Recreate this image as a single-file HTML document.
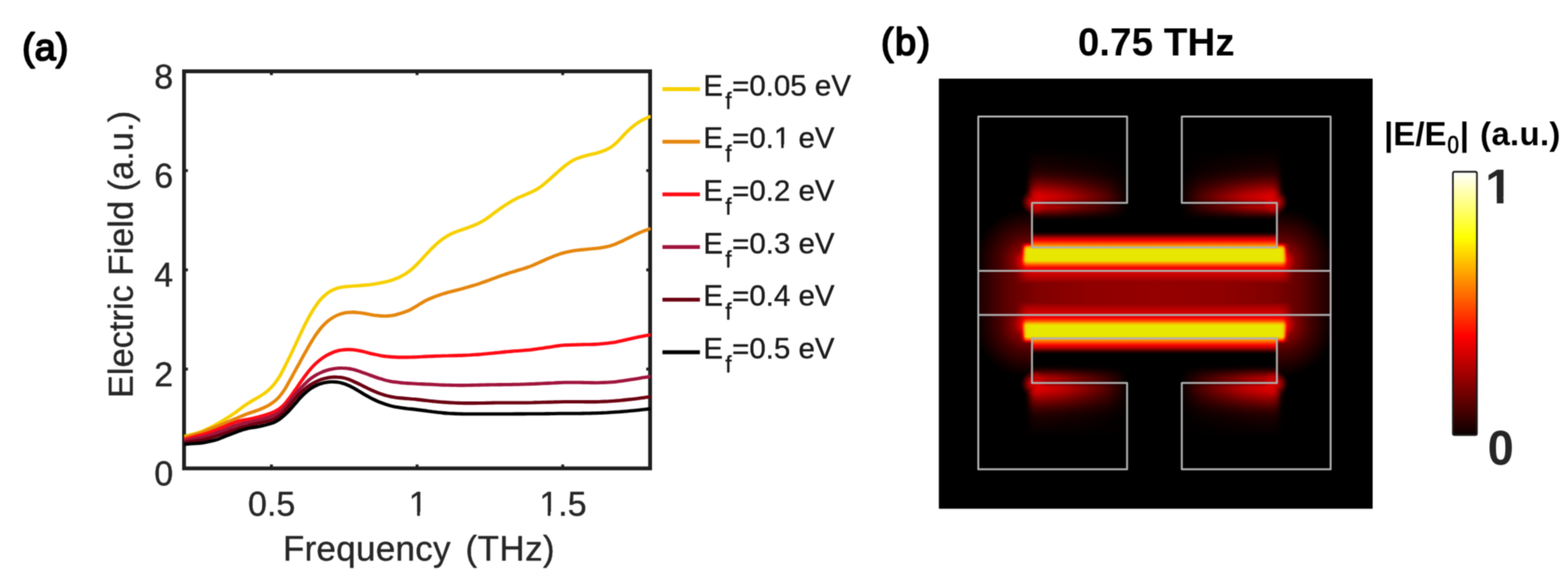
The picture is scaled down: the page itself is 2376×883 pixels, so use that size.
<!DOCTYPE html>
<html lang="en"><head><meta charset="utf-8"><title>Electric field vs frequency</title>
<style>
html,body{margin:0;padding:0;background:#fff;}
body{width:2376px;height:883px;overflow:hidden;}
svg{display:block;}
text{font-family:"Liberation Sans",Arial,Helvetica,sans-serif;}
.t{fill:#262626;stroke:#262626;stroke-width:0.55px;stroke-linejoin:round;}
.b{font-weight:bold;fill:#000;}
.s{fill:#000;stroke:#000;stroke-width:2.6px;stroke-linejoin:round;}
</style></head><body>
<svg width="2376" height="883" viewBox="0 0 2376 883">
<defs><filter id="soft" filterUnits="userSpaceOnUse" x="0" y="0" width="2376" height="883" color-interpolation-filters="sRGB"><feConvolveMatrix order="5" kernelMatrix="0.0008 0.0117 0.0286 0.0117 0.0008 0.0117 0.1690 0.4111 0.1690 0.0117 0.0286 0.4111 1.0000 0.4111 0.0286 0.0117 0.1690 0.4111 0.1690 0.0117 0.0008 0.0117 0.0286 0.0117 0.0008" edgeMode="duplicate" preserveAlpha="true"/></filter></defs>
<g filter="url(#soft)">
<rect width="2376" height="883" fill="#fff"/>
<defs><clipPath id="k0"><path clip-rule="evenodd" d="M0 0H2376V883H0ZM620.8 775.0H632.1V783.0H620.8ZM636.3 775.0H647.1V783.0H636.3Z"/></clipPath><clipPath id="k1"><path clip-rule="evenodd" d="M0 0H2376V883H0ZM818.7 775.0H830.0V783.0H818.7ZM834.2 775.0H845.0V783.0H834.2Z"/></clipPath><clipPath id="k2"><path clip-rule="evenodd" d="M0 0H2376V883H0ZM1174.0 219.0H1183.8V226.3H1174.0ZM1187.4 219.0H1196.8V226.3H1187.4Z"/></clipPath><clipPath id="k3"><path clip-rule="evenodd" d="M0 0H2376V883H0ZM2252.8 298.0H2268.1V310.3H2252.8ZM2278.3 298.0H2292.5V310.3H2278.3Z"/></clipPath></defs>

<g id="panel-a">
<g stroke="#1e1e1e" stroke-width="4.4" fill="none">
<path d="M411.3 709.4v-5.8M411.3 108.0v5.8"/>
<path d="M632.0 709.4v-5.8M632.0 108.0v5.8"/>
<path d="M852.7 709.4v-5.8M852.7 108.0v5.8"/>
<path d="M278.9 559.0h5.8M985.1 559.0h-5.8"/>
<path d="M278.9 408.7h5.8M985.1 408.7h-5.8"/>
<path d="M278.9 258.4h5.8M985.1 258.4h-5.8"/>
</g>
<rect x="278.9" y="108.0" width="706.2" height="601.4" fill="none" stroke="#1e1e1e" stroke-width="5.8"/>
<clipPath id="cp"><rect x="278.4" y="108.0" width="707.7" height="601.4"/></clipPath>
<g clip-path="url(#cp)" fill="none" stroke-width="5.1" stroke-linejoin="round" stroke-linecap="butt">
<path stroke="#f7d000" d="M279.0 661.0C280.3 660.7 284.3 659.6 287.0 659.0C289.7 658.3 292.3 657.6 295.0 656.9C297.7 656.1 300.3 655.5 303.0 654.5C305.7 653.6 308.3 652.4 311.0 651.2C313.7 650.0 316.3 648.6 319.0 647.3C321.7 646.0 324.3 644.7 327.0 643.2C329.7 641.8 332.3 640.2 335.0 638.6C337.7 637.0 340.3 635.4 343.0 633.8C345.7 632.1 348.3 630.5 351.0 628.7C353.7 626.9 356.3 625.0 359.0 623.1C361.7 621.1 364.3 619.0 367.0 617.0C369.7 615.1 372.3 613.1 375.0 611.4C377.7 609.6 380.3 608.1 383.0 606.5C385.7 604.9 388.3 603.5 391.0 601.9C393.7 600.3 396.3 598.8 399.0 597.0C401.7 595.1 404.3 593.1 407.0 590.7C409.7 588.2 412.3 585.5 415.0 582.3C417.7 579.0 420.3 575.5 423.0 571.2C425.7 566.9 428.3 561.6 431.0 556.4C433.7 551.3 436.3 545.8 439.0 540.3C441.7 534.8 444.3 529.2 447.0 523.5C449.7 517.8 452.3 511.9 455.0 506.3C457.7 500.7 460.3 495.2 463.0 490.0C465.7 484.8 468.3 479.7 471.0 475.1C473.7 470.5 476.3 466.2 479.0 462.4C481.7 458.6 484.3 455.2 487.0 452.3C489.7 449.4 492.3 447.0 495.0 444.9C497.7 442.8 500.3 441.2 503.0 439.8C505.7 438.4 508.3 437.4 511.0 436.5C513.7 435.7 516.3 435.2 519.0 434.8C521.7 434.4 524.3 434.1 527.0 433.9C529.7 433.6 532.3 433.5 535.0 433.3C537.7 433.1 540.3 432.9 543.0 432.7C545.7 432.5 548.3 432.3 551.0 432.1C553.7 431.9 556.3 431.7 559.0 431.4C561.7 431.0 564.3 430.6 567.0 430.2C569.7 429.8 572.3 429.3 575.0 428.8C577.7 428.4 580.3 427.9 583.0 427.3C585.7 426.7 588.3 426.1 591.0 425.2C593.7 424.4 596.3 423.5 599.0 422.4C601.7 421.4 604.3 420.3 607.0 418.9C609.7 417.6 612.3 416.1 615.0 414.4C617.7 412.6 620.3 410.7 623.0 408.5C625.7 406.3 628.3 403.7 631.0 401.1C633.7 398.5 636.3 395.5 639.0 392.7C641.7 389.8 644.3 386.8 647.0 384.0C649.7 381.1 652.3 378.2 655.0 375.6C657.7 373.0 660.3 370.4 663.0 368.1C665.7 365.8 668.3 363.7 671.0 361.8C673.7 359.9 676.3 358.2 679.0 356.7C681.7 355.2 684.3 353.9 687.0 352.7C689.7 351.5 692.3 350.6 695.0 349.6C697.7 348.7 700.3 347.9 703.0 347.0C705.7 346.1 708.3 345.1 711.0 344.1C713.7 343.1 716.3 342.1 719.0 340.9C721.7 339.8 724.3 338.6 727.0 337.2C729.7 335.9 732.3 334.3 735.0 332.7C737.7 331.0 740.3 329.0 743.0 327.1C745.7 325.1 748.3 322.9 751.0 320.9C753.7 319.0 756.3 317.0 759.0 315.1C761.7 313.3 764.3 311.5 767.0 309.8C769.7 308.1 772.3 306.4 775.0 304.9C777.7 303.3 780.3 301.9 783.0 300.5C785.7 299.2 788.3 298.1 791.0 297.0C793.7 295.8 796.3 294.7 799.0 293.6C801.7 292.4 804.3 291.3 807.0 290.0C809.7 288.7 812.3 287.3 815.0 285.7C817.7 284.0 820.3 282.1 823.0 280.0C825.7 277.9 828.3 275.5 831.0 273.1C833.7 270.8 836.3 268.4 839.0 266.0C841.7 263.6 844.3 261.2 847.0 258.8C849.7 256.5 852.3 254.2 855.0 252.1C857.7 249.9 860.3 247.9 863.0 246.1C865.7 244.4 868.3 242.8 871.0 241.5C873.7 240.2 876.3 239.2 879.0 238.3C881.7 237.4 884.3 236.7 887.0 236.0C889.7 235.2 892.3 234.7 895.0 234.0C897.7 233.4 900.3 232.9 903.0 232.2C905.7 231.4 908.3 230.7 911.0 229.7C913.7 228.8 916.3 227.9 919.0 226.6C921.7 225.3 924.3 223.9 927.0 222.0C929.7 220.1 932.3 217.8 935.0 215.3C937.7 212.8 940.3 209.8 943.0 207.0C945.7 204.2 948.3 201.1 951.0 198.5C953.7 195.9 956.3 193.5 959.0 191.4C961.7 189.2 964.3 187.4 967.0 185.7C969.7 184.0 972.3 182.5 975.0 181.1C977.7 179.7 981.2 178.2 983.0 177.4C984.8 176.5 985.5 176.2 986.0 176.0"/>
<path stroke="#e5860c" d="M279.0 662.5C280.3 662.2 284.3 661.1 287.0 660.4C289.7 659.7 292.3 659.1 295.0 658.3C297.7 657.6 300.3 656.9 303.0 656.0C305.7 655.1 308.3 654.1 311.0 653.0C313.7 652.0 316.3 650.8 319.0 649.7C321.7 648.6 324.3 647.5 327.0 646.4C329.7 645.3 332.3 644.2 335.0 643.1C337.7 642.0 340.3 641.0 343.0 639.9C345.7 638.8 348.3 637.7 351.0 636.6C353.7 635.5 356.3 634.4 359.0 633.3C361.7 632.1 364.3 631.0 367.0 629.9C369.7 628.8 372.3 627.7 375.0 626.7C377.7 625.7 380.3 624.9 383.0 624.0C385.7 623.1 388.3 622.2 391.0 621.2C393.7 620.1 396.3 619.1 399.0 617.9C401.7 616.7 404.3 615.5 407.0 613.9C409.7 612.4 412.3 610.7 415.0 608.6C417.7 606.4 420.3 604.1 423.0 601.1C425.7 598.0 428.3 594.4 431.0 590.4C433.7 586.3 436.3 581.3 439.0 576.5C441.7 571.8 444.3 566.8 447.0 562.0C449.7 557.1 452.3 552.2 455.0 547.4C457.7 542.6 460.3 537.7 463.0 533.0C465.7 528.3 468.3 523.6 471.0 519.2C473.7 514.8 476.3 510.4 479.0 506.6C481.7 502.7 484.3 499.2 487.0 496.0C489.7 492.9 492.3 490.2 495.0 487.8C497.7 485.4 500.3 483.5 503.0 481.8C505.7 480.0 508.3 478.7 511.0 477.5C513.7 476.4 516.3 475.5 519.0 474.8C521.7 474.1 524.3 473.6 527.0 473.3C529.7 473.0 532.3 472.9 535.0 472.9C537.7 472.9 540.3 473.2 543.0 473.5C545.7 473.7 548.3 474.2 551.0 474.6C553.7 475.1 556.3 475.6 559.0 476.1C561.7 476.6 564.3 477.1 567.0 477.5C569.7 477.8 572.3 478.2 575.0 478.4C577.7 478.6 580.3 478.8 583.0 478.7C585.7 478.7 588.3 478.6 591.0 478.2C593.7 477.9 596.3 477.5 599.0 476.9C601.7 476.3 604.3 475.4 607.0 474.6C609.7 473.8 612.3 472.9 615.0 471.9C617.7 470.9 620.3 469.8 623.0 468.4C625.7 467.0 628.3 465.3 631.0 463.7C633.7 462.1 636.3 460.3 639.0 458.8C641.7 457.2 644.3 455.6 647.0 454.3C649.7 452.9 652.3 451.9 655.0 450.8C657.7 449.7 660.3 448.7 663.0 447.8C665.7 446.8 668.3 445.9 671.0 445.1C673.7 444.3 676.3 443.6 679.0 442.8C681.7 442.1 684.3 441.5 687.0 440.8C689.7 440.1 692.3 439.4 695.0 438.7C697.7 438.0 700.3 437.2 703.0 436.5C705.7 435.7 708.3 435.0 711.0 434.2C713.7 433.4 716.3 432.7 719.0 431.9C721.7 431.1 724.3 430.2 727.0 429.3C729.7 428.4 732.3 427.4 735.0 426.5C737.7 425.5 740.3 424.6 743.0 423.6C745.7 422.6 748.3 421.6 751.0 420.7C753.7 419.7 756.3 418.7 759.0 417.7C761.7 416.8 764.3 415.9 767.0 415.0C769.7 414.1 772.3 413.2 775.0 412.4C777.7 411.6 780.3 410.8 783.0 410.0C785.7 409.2 788.3 408.4 791.0 407.6C793.7 406.8 796.3 406.0 799.0 405.0C801.7 404.1 804.3 403.1 807.0 402.0C809.7 400.9 812.3 399.7 815.0 398.5C817.7 397.3 820.3 396.1 823.0 394.9C825.7 393.7 828.3 392.5 831.0 391.4C833.7 390.3 836.3 389.2 839.0 388.1C841.7 387.1 844.3 386.1 847.0 385.2C849.7 384.3 852.3 383.5 855.0 382.8C857.7 382.1 860.3 381.5 863.0 381.0C865.7 380.4 868.3 380.0 871.0 379.6C873.7 379.2 876.3 378.9 879.0 378.5C881.7 378.2 884.3 378.0 887.0 377.7C889.7 377.5 892.3 377.3 895.0 377.0C897.7 376.8 900.3 376.6 903.0 376.3C905.7 376.0 908.3 375.7 911.0 375.3C913.7 374.9 916.3 374.4 919.0 373.8C921.7 373.2 924.3 372.5 927.0 371.6C929.7 370.7 932.3 369.7 935.0 368.6C937.7 367.5 940.3 366.3 943.0 365.1C945.7 363.8 948.3 362.5 951.0 361.1C953.7 359.8 956.3 358.5 959.0 357.2C961.7 355.9 964.3 354.6 967.0 353.4C969.7 352.2 972.3 351.1 975.0 350.0C977.7 349.0 981.2 347.7 983.0 347.1C984.8 346.4 985.5 346.2 986.0 346.0"/>
<path stroke="#ff0a14" d="M279.0 665.6C280.3 665.2 284.3 664.2 287.0 663.5C289.7 662.7 292.3 662.0 295.0 661.3C297.7 660.6 300.3 659.9 303.0 659.2C305.7 658.4 308.3 657.8 311.0 657.0C313.7 656.2 316.3 655.3 319.0 654.3C321.7 653.4 324.3 652.3 327.0 651.3C329.7 650.2 332.3 649.1 335.0 648.1C337.7 647.0 340.3 646.0 343.0 644.9C345.7 643.8 348.3 642.7 351.0 641.7C353.7 640.7 356.3 639.6 359.0 638.7C361.7 637.9 364.3 637.3 367.0 636.7C369.7 636.1 372.3 635.8 375.0 635.3C377.7 634.7 380.3 634.3 383.0 633.7C385.7 633.1 388.3 632.4 391.0 631.7C393.7 631.0 396.3 630.3 399.0 629.5C401.7 628.7 404.3 627.9 407.0 627.0C409.7 626.0 412.3 625.0 415.0 623.8C417.7 622.5 420.3 621.3 423.0 619.4C425.7 617.5 428.3 615.2 431.0 612.3C433.7 609.5 436.3 605.8 439.0 602.3C441.7 598.7 444.3 594.9 447.0 591.1C449.7 587.3 452.3 583.4 455.0 579.6C457.7 575.8 460.3 571.9 463.0 568.4C465.7 564.9 468.3 561.4 471.0 558.4C473.7 555.3 476.3 552.6 479.0 550.2C481.7 547.7 484.3 545.5 487.0 543.5C489.7 541.5 492.3 539.7 495.0 538.2C497.7 536.7 500.3 535.4 503.0 534.3C505.7 533.2 508.3 532.3 511.0 531.5C513.7 530.8 516.3 530.3 519.0 530.0C521.7 529.6 524.3 529.4 527.0 529.4C529.7 529.4 532.3 529.5 535.0 529.7C537.7 530.0 540.3 530.4 543.0 530.9C545.7 531.4 548.3 532.0 551.0 532.6C553.7 533.3 556.3 534.0 559.0 534.7C561.7 535.3 564.3 536.0 567.0 536.6C569.7 537.2 572.3 537.8 575.0 538.3C577.7 538.8 580.3 539.3 583.0 539.6C585.7 540.0 588.3 540.2 591.0 540.4C593.7 540.7 596.3 540.8 599.0 540.9C601.7 541.0 604.3 541.1 607.0 541.1C609.7 541.1 612.3 541.1 615.0 541.1C617.7 541.1 620.3 541.1 623.0 541.0C625.7 540.9 628.3 540.8 631.0 540.7C633.7 540.6 636.3 540.4 639.0 540.3C641.7 540.1 644.3 540.0 647.0 539.9C649.7 539.8 652.3 539.7 655.0 539.6C657.7 539.5 660.3 539.3 663.0 539.2C665.7 539.2 668.3 539.1 671.0 539.0C673.7 538.9 676.3 538.8 679.0 538.8C681.7 538.7 684.3 538.7 687.0 538.6C689.7 538.6 692.3 538.5 695.0 538.4C697.7 538.4 700.3 538.3 703.0 538.1C705.7 538.0 708.3 537.9 711.0 537.8C713.7 537.6 716.3 537.5 719.0 537.3C721.7 537.2 724.3 537.0 727.0 536.8C729.7 536.6 732.3 536.3 735.0 536.0C737.7 535.8 740.3 535.5 743.0 535.2C745.7 535.0 748.3 534.7 751.0 534.4C753.7 534.2 756.3 533.9 759.0 533.6C761.7 533.4 764.3 533.1 767.0 532.8C769.7 532.6 772.3 532.3 775.0 532.1C777.7 531.9 780.3 531.7 783.0 531.5C785.7 531.3 788.3 531.2 791.0 531.0C793.7 530.8 796.3 530.6 799.0 530.3C801.7 530.1 804.3 529.8 807.0 529.4C809.7 529.1 812.3 528.7 815.0 528.3C817.7 527.9 820.3 527.6 823.0 527.2C825.7 526.8 828.3 526.4 831.0 526.0C833.7 525.6 836.3 525.2 839.0 524.8C841.7 524.4 844.3 523.9 847.0 523.6C849.7 523.3 852.3 523.0 855.0 522.8C857.7 522.6 860.3 522.6 863.0 522.5C865.7 522.4 868.3 522.3 871.0 522.2C873.7 522.1 876.3 522.1 879.0 522.0C881.7 521.9 884.3 521.9 887.0 521.8C889.7 521.8 892.3 521.7 895.0 521.7C897.7 521.6 900.3 521.6 903.0 521.4C905.7 521.3 908.3 521.0 911.0 520.8C913.7 520.6 916.3 520.3 919.0 520.0C921.7 519.7 924.3 519.5 927.0 519.1C929.7 518.7 932.3 518.3 935.0 517.7C937.7 517.2 940.3 516.6 943.0 516.0C945.7 515.4 948.3 514.7 951.0 514.1C953.7 513.5 956.3 512.9 959.0 512.3C961.7 511.6 964.3 511.0 967.0 510.4C969.7 509.9 972.3 509.4 975.0 508.9C977.7 508.4 981.2 507.8 983.0 507.5C984.8 507.2 985.5 507.1 986.0 507.0"/>
<path stroke="#a0143c" d="M279.0 668.2C280.3 667.8 284.3 666.9 287.0 666.3C289.7 665.7 292.3 665.2 295.0 664.6C297.7 664.1 300.3 663.5 303.0 662.9C305.7 662.3 308.3 661.8 311.0 661.1C313.7 660.5 316.3 659.7 319.0 658.8C321.7 658.0 324.3 657.0 327.0 656.0C329.7 655.1 332.3 654.1 335.0 653.1C337.7 652.1 340.3 651.0 343.0 650.0C345.7 649.0 348.3 647.9 351.0 646.8C353.7 645.8 356.3 644.7 359.0 643.9C361.7 643.0 364.3 642.4 367.0 641.7C369.7 641.1 372.3 640.6 375.0 640.1C377.7 639.5 380.3 639.0 383.0 638.4C385.7 637.8 388.3 637.1 391.0 636.4C393.7 635.7 396.3 635.1 399.0 634.4C401.7 633.6 404.3 632.9 407.0 632.1C409.7 631.2 412.3 630.3 415.0 629.1C417.7 627.9 420.3 626.6 423.0 624.7C425.7 622.7 428.3 620.4 431.0 617.6C433.7 614.8 436.3 611.1 439.0 607.8C441.7 604.5 444.3 601.1 447.0 597.9C449.7 594.6 452.3 591.5 455.0 588.6C457.7 585.7 460.3 582.8 463.0 580.3C465.7 577.7 468.3 575.4 471.0 573.3C473.7 571.3 476.3 569.5 479.0 568.0C481.7 566.4 484.3 565.1 487.0 564.0C489.7 562.8 492.3 561.8 495.0 561.0C497.7 560.1 500.3 559.5 503.0 558.9C505.7 558.4 508.3 558.0 511.0 557.8C513.7 557.5 516.3 557.4 519.0 557.5C521.7 557.5 524.3 557.7 527.0 558.1C529.7 558.4 532.3 558.9 535.0 559.6C537.7 560.2 540.3 561.0 543.0 561.9C545.7 562.7 548.3 563.7 551.0 564.7C553.7 565.6 556.3 566.6 559.0 567.6C561.7 568.6 564.3 569.6 567.0 570.5C569.7 571.5 572.3 572.4 575.0 573.2C577.7 574.1 580.3 574.9 583.0 575.6C585.7 576.3 588.3 576.9 591.0 577.4C593.7 577.9 596.3 578.3 599.0 578.6C601.7 579.0 604.3 579.3 607.0 579.6C609.7 579.8 612.3 580.1 615.0 580.3C617.7 580.5 620.3 580.7 623.0 580.8C625.7 581.0 628.3 581.1 631.0 581.2C633.7 581.4 636.3 581.5 639.0 581.6C641.7 581.7 644.3 581.8 647.0 582.0C649.7 582.1 652.3 582.2 655.0 582.3C657.7 582.5 660.3 582.6 663.0 582.7C665.7 582.9 668.3 583.0 671.0 583.1C673.7 583.2 676.3 583.3 679.0 583.3C681.7 583.4 684.3 583.4 687.0 583.5C689.7 583.5 692.3 583.6 695.0 583.6C697.7 583.6 700.3 583.6 703.0 583.6C705.7 583.6 708.3 583.5 711.0 583.5C713.7 583.4 716.3 583.4 719.0 583.3C721.7 583.2 724.3 583.2 727.0 583.1C729.7 583.1 732.3 583.0 735.0 583.0C737.7 582.9 740.3 582.9 743.0 582.8C745.7 582.8 748.3 582.7 751.0 582.7C753.7 582.7 756.3 582.6 759.0 582.6C761.7 582.6 764.3 582.5 767.0 582.5C769.7 582.5 772.3 582.4 775.0 582.4C777.7 582.3 780.3 582.3 783.0 582.2C785.7 582.2 788.3 582.1 791.0 582.0C793.7 582.0 796.3 581.9 799.0 581.8C801.7 581.7 804.3 581.6 807.0 581.5C809.7 581.4 812.3 581.3 815.0 581.1C817.7 581.0 820.3 580.9 823.0 580.8C825.7 580.7 828.3 580.5 831.0 580.4C833.7 580.3 836.3 580.1 839.0 580.0C841.7 579.8 844.3 579.7 847.0 579.6C849.7 579.5 852.3 579.4 855.0 579.3C857.7 579.3 860.3 579.3 863.0 579.3C865.7 579.3 868.3 579.3 871.0 579.3C873.7 579.3 876.3 579.3 879.0 579.3C881.7 579.4 884.3 579.4 887.0 579.5C889.7 579.5 892.3 579.6 895.0 579.6C897.7 579.7 900.3 579.7 903.0 579.7C905.7 579.7 908.3 579.6 911.0 579.5C913.7 579.4 916.3 579.3 919.0 579.2C921.7 579.1 924.3 579.0 927.0 578.8C929.7 578.6 932.3 578.4 935.0 578.0C937.7 577.7 940.3 577.3 943.0 576.9C945.7 576.5 948.3 576.1 951.0 575.7C953.7 575.3 956.3 574.9 959.0 574.5C961.7 574.0 964.3 573.6 967.0 573.2C969.7 572.7 972.3 572.3 975.0 571.8C977.7 571.4 981.2 570.8 983.0 570.5C984.8 570.2 985.5 570.1 986.0 570.0"/>
<path stroke="#6b0010" d="M279.0 670.7C280.3 670.5 284.3 669.6 287.0 669.2C289.7 668.7 292.3 668.4 295.0 667.9C297.7 667.5 300.3 667.1 303.0 666.7C305.7 666.2 308.3 665.9 311.0 665.3C313.7 664.7 316.3 664.1 319.0 663.3C321.7 662.6 324.3 661.7 327.0 660.8C329.7 659.9 332.3 659.0 335.0 658.1C337.7 657.1 340.3 656.1 343.0 655.1C345.7 654.1 348.3 653.0 351.0 652.0C353.7 651.0 356.3 650.0 359.0 649.1C361.7 648.2 364.3 647.5 367.0 646.8C369.7 646.1 372.3 645.5 375.0 644.9C377.7 644.2 380.3 643.6 383.0 643.0C385.7 642.4 388.3 641.7 391.0 641.1C393.7 640.5 396.3 639.9 399.0 639.3C401.7 638.6 404.3 638.0 407.0 637.2C409.7 636.4 412.3 635.7 415.0 634.5C417.7 633.3 420.3 631.9 423.0 630.0C425.7 628.1 428.3 625.7 431.0 623.0C433.7 620.2 436.3 616.7 439.0 613.6C441.7 610.4 444.3 607.1 447.0 604.0C449.7 601.0 452.3 597.9 455.0 595.3C457.7 592.6 460.3 590.3 463.0 588.2C465.7 586.0 468.3 584.2 471.0 582.5C473.7 580.8 476.3 579.3 479.0 578.1C481.7 576.8 484.3 575.7 487.0 574.7C489.7 573.8 492.3 573.0 495.0 572.5C497.7 571.9 500.3 571.5 503.0 571.3C505.7 571.1 508.3 571.0 511.0 571.2C513.7 571.3 516.3 571.6 519.0 572.1C521.7 572.6 524.3 573.3 527.0 574.2C529.7 575.1 532.3 576.2 535.0 577.3C537.7 578.5 540.3 579.8 543.0 581.1C545.7 582.4 548.3 583.8 551.0 585.1C553.7 586.4 556.3 587.8 559.0 589.0C561.7 590.3 564.3 591.5 567.0 592.7C569.7 593.8 572.3 594.9 575.0 595.9C577.7 596.8 580.3 597.7 583.0 598.5C585.7 599.2 588.3 599.9 591.0 600.5C593.7 601.1 596.3 601.5 599.0 602.0C601.7 602.4 604.3 602.7 607.0 602.9C609.7 603.2 612.3 603.4 615.0 603.6C617.7 603.8 620.3 603.9 623.0 604.2C625.7 604.4 628.3 604.6 631.0 604.9C633.7 605.2 636.3 605.6 639.0 605.9C641.7 606.2 644.3 606.5 647.0 606.8C649.7 607.1 652.3 607.3 655.0 607.6C657.7 607.9 660.3 608.1 663.0 608.4C665.7 608.6 668.3 608.9 671.0 609.1C673.7 609.3 676.3 609.5 679.0 609.6C681.7 609.8 684.3 609.9 687.0 610.0C689.7 610.2 692.3 610.3 695.0 610.4C697.7 610.5 700.3 610.5 703.0 610.6C705.7 610.6 708.3 610.6 711.0 610.6C713.7 610.6 716.3 610.6 719.0 610.6C721.7 610.6 724.3 610.6 727.0 610.5C729.7 610.5 732.3 610.4 735.0 610.4C737.7 610.3 740.3 610.2 743.0 610.2C745.7 610.1 748.3 610.1 751.0 610.0C753.7 610.0 756.3 610.0 759.0 610.0C761.7 610.0 764.3 610.0 767.0 610.0C769.7 610.0 772.3 610.0 775.0 610.0C777.7 610.0 780.3 610.0 783.0 610.0C785.7 610.0 788.3 610.0 791.0 610.0C793.7 610.0 796.3 610.0 799.0 610.0C801.7 609.9 804.3 609.8 807.0 609.8C809.7 609.7 812.3 609.6 815.0 609.5C817.7 609.5 820.3 609.4 823.0 609.3C825.7 609.2 828.3 609.2 831.0 609.1C833.7 609.0 836.3 608.9 839.0 608.9C841.7 608.8 844.3 608.7 847.0 608.7C849.7 608.6 852.3 608.5 855.0 608.5C857.7 608.5 860.3 608.5 863.0 608.5C865.7 608.5 868.3 608.5 871.0 608.5C873.7 608.5 876.3 608.5 879.0 608.5C881.7 608.5 884.3 608.6 887.0 608.6C889.7 608.6 892.3 608.6 895.0 608.6C897.7 608.6 900.3 608.7 903.0 608.6C905.7 608.6 908.3 608.5 911.0 608.3C913.7 608.2 916.3 608.1 919.0 608.0C921.7 607.8 924.3 607.7 927.0 607.5C929.7 607.3 932.3 607.1 935.0 606.9C937.7 606.7 940.3 606.4 943.0 606.1C945.7 605.9 948.3 605.6 951.0 605.3C953.7 605.0 956.3 604.8 959.0 604.5C961.7 604.2 964.3 603.9 967.0 603.5C969.7 603.2 972.3 602.8 975.0 602.4C977.7 602.0 981.2 601.5 983.0 601.2C984.8 600.9 985.5 600.8 986.0 600.7"/>
<path stroke="#000000" d="M279.0 672.9C280.3 672.8 284.3 672.4 287.0 672.2C289.7 672.0 292.3 671.9 295.0 671.8C297.7 671.6 300.3 671.4 303.0 671.1C305.7 670.8 308.3 670.4 311.0 669.9C313.7 669.4 316.3 668.9 319.0 668.3C321.7 667.7 324.3 667.1 327.0 666.3C329.7 665.5 332.3 664.4 335.0 663.4C337.7 662.4 340.3 661.3 343.0 660.2C345.7 659.2 348.3 658.1 351.0 657.1C353.7 656.1 356.3 655.1 359.0 654.1C361.7 653.1 364.3 652.0 367.0 651.2C369.7 650.3 372.3 649.5 375.0 648.9C377.7 648.3 380.3 648.0 383.0 647.5C385.7 647.1 388.3 646.8 391.0 646.3C393.7 645.8 396.3 645.2 399.0 644.5C401.7 643.9 404.3 643.2 407.0 642.4C409.7 641.6 412.3 640.9 415.0 639.8C417.7 638.6 420.3 637.2 423.0 635.4C425.7 633.6 428.3 631.3 431.0 628.9C433.7 626.5 436.3 623.8 439.0 620.9C441.7 618.1 444.3 615.0 447.0 611.9C449.7 608.8 452.3 605.5 455.0 602.6C457.7 599.7 460.3 597.1 463.0 594.8C465.7 592.4 468.3 590.3 471.0 588.5C473.7 586.7 476.3 585.2 479.0 583.9C481.7 582.6 484.3 581.6 487.0 580.8C489.7 579.9 492.3 579.4 495.0 579.0C497.7 578.6 500.3 578.3 503.0 578.3C505.7 578.3 508.3 578.4 511.0 578.8C513.7 579.1 516.3 579.7 519.0 580.5C521.7 581.2 524.3 582.2 527.0 583.4C529.7 584.5 532.3 585.9 535.0 587.3C537.7 588.7 540.3 590.3 543.0 591.9C545.7 593.5 548.3 595.1 551.0 596.7C553.7 598.2 556.3 599.8 559.0 601.3C561.7 602.8 564.3 604.1 567.0 605.4C569.7 606.7 572.3 607.9 575.0 609.0C577.7 610.0 580.3 611.0 583.0 611.9C585.7 612.8 588.3 613.6 591.0 614.4C593.7 615.1 596.3 615.7 599.0 616.3C601.7 616.8 604.3 617.2 607.0 617.6C609.7 618.0 612.3 618.3 615.0 618.6C617.7 618.9 620.3 619.2 623.0 619.4C625.7 619.7 628.3 620.1 631.0 620.4C633.7 620.7 636.3 621.1 639.0 621.4C641.7 621.7 644.3 622.1 647.0 622.4C649.7 622.8 652.3 623.1 655.0 623.5C657.7 623.8 660.3 624.2 663.0 624.5C665.7 624.8 668.3 625.2 671.0 625.4C673.7 625.7 676.3 625.9 679.0 626.0C681.7 626.2 684.3 626.3 687.0 626.4C689.7 626.6 692.3 626.7 695.0 626.8C697.7 626.9 700.3 626.9 703.0 627.0C705.7 627.0 708.3 627.0 711.0 627.0C713.7 627.0 716.3 627.0 719.0 627.0C721.7 627.0 724.3 627.0 727.0 627.0C729.7 627.0 732.3 627.0 735.0 627.0C737.7 627.0 740.3 627.0 743.0 627.0C745.7 627.0 748.3 627.0 751.0 627.0C753.7 627.0 756.3 627.0 759.0 627.0C761.7 627.0 764.3 627.0 767.0 627.0C769.7 627.0 772.3 627.0 775.0 627.0C777.7 627.0 780.3 627.0 783.0 626.9C785.7 626.9 788.3 626.9 791.0 626.9C793.7 626.9 796.3 626.8 799.0 626.8C801.7 626.8 804.3 626.8 807.0 626.8C809.7 626.8 812.3 626.8 815.0 626.7C817.7 626.7 820.3 626.7 823.0 626.7C825.7 626.7 828.3 626.6 831.0 626.6C833.7 626.6 836.3 626.5 839.0 626.5C841.7 626.4 844.3 626.3 847.0 626.3C849.7 626.3 852.3 626.2 855.0 626.2C857.7 626.2 860.3 626.2 863.0 626.2C865.7 626.2 868.3 626.2 871.0 626.2C873.7 626.2 876.3 626.2 879.0 626.2C881.7 626.1 884.3 626.1 887.0 626.0C889.7 626.0 892.3 625.9 895.0 625.9C897.7 625.8 900.3 625.8 903.0 625.7C905.7 625.6 908.3 625.5 911.0 625.4C913.7 625.2 916.3 625.1 919.0 625.0C921.7 624.8 924.3 624.7 927.0 624.5C929.7 624.4 932.3 624.2 935.0 624.0C937.7 623.8 940.3 623.6 943.0 623.4C945.7 623.2 948.3 622.9 951.0 622.7C953.7 622.5 956.3 622.3 959.0 622.0C961.7 621.8 964.3 621.5 967.0 621.2C969.7 620.9 972.3 620.6 975.0 620.3C977.7 620.0 981.2 619.6 983.0 619.4C984.8 619.1 985.5 619.1 986.0 619.0"/>
</g>
<text class="t" x="262.3" y="735.1" font-size="51.5" text-anchor="end">0</text>
<text class="t" x="262.3" y="584.8" font-size="51.5" text-anchor="end">2</text>
<text class="t" x="262.3" y="434.4" font-size="51.5" text-anchor="end">4</text>
<text class="t" x="262.3" y="284.1" font-size="51.5" text-anchor="end">6</text>
<text class="t" x="262.3" y="133.7" font-size="51.5" text-anchor="end">8</text>
<text class="t" x="375.8" y="781" font-size="51.5">0.5</text>
<text class="t" x="619.3" y="781" font-size="51.5" clip-path="url(#k0)">1</text>
<text class="t" x="817.2" y="781" font-size="51.5" clip-path="url(#k1)">1.5</text>
<text class="t" y="849.2" font-size="53"><tspan x="428.7" textLength="254" lengthAdjust="spacing">Frequency</tspan> <tspan x="705.3" textLength="135.2" lengthAdjust="spacing">(THz)</tspan></text>
<text class="t" transform="translate(201.2 603) rotate(-90)" font-size="52.2">Electric Field (a.u.)</text>
<path d="M1003.8 135.0H1060.6" stroke="#f7d000" stroke-width="5.8" fill="none"/>
<text class="t" font-size="44.7" y="144.6" style="fill:#1a1a1a;stroke:#1a1a1a"><tspan x="1065.7">E</tspan><tspan font-size="34.5" dy="20.8" x="1099">f</tspan><tspan dy="-20.8" x="1109.3">=0.05 eV</tspan></text>
<path d="M1003.8 214.7H1060.6" stroke="#e5860c" stroke-width="5.8" fill="none"/>
<text class="t" font-size="44.7" y="224.3" clip-path="url(#k2)" style="fill:#1a1a1a;stroke:#1a1a1a"><tspan x="1065.7">E</tspan><tspan font-size="34.5" dy="20.8" x="1099">f</tspan><tspan dy="-20.8" x="1109.3">=0.1 eV</tspan></text>
<path d="M1003.8 294.4H1060.6" stroke="#ff0a14" stroke-width="5.8" fill="none"/>
<text class="t" font-size="44.7" y="304.0" style="fill:#1a1a1a;stroke:#1a1a1a"><tspan x="1065.7">E</tspan><tspan font-size="34.5" dy="20.8" x="1099">f</tspan><tspan dy="-20.8" x="1109.3">=0.2 eV</tspan></text>
<path d="M1003.8 374.1H1060.6" stroke="#a0143c" stroke-width="5.8" fill="none"/>
<text class="t" font-size="44.7" y="383.7" style="fill:#1a1a1a;stroke:#1a1a1a"><tspan x="1065.7">E</tspan><tspan font-size="34.5" dy="20.8" x="1099">f</tspan><tspan dy="-20.8" x="1109.3">=0.3 eV</tspan></text>
<path d="M1003.8 453.8H1060.6" stroke="#6b0010" stroke-width="5.8" fill="none"/>
<text class="t" font-size="44.7" y="463.4" style="fill:#1a1a1a;stroke:#1a1a1a"><tspan x="1065.7">E</tspan><tspan font-size="34.5" dy="20.8" x="1099">f</tspan><tspan dy="-20.8" x="1109.3">=0.4 eV</tspan></text>
<path d="M1003.8 533.5H1060.6" stroke="#000000" stroke-width="5.8" fill="none"/>
<text class="t" font-size="44.7" y="543.1" style="fill:#1a1a1a;stroke:#1a1a1a"><tspan x="1065.7">E</tspan><tspan font-size="34.5" dy="20.8" x="1099">f</tspan><tspan dy="-20.8" x="1109.3">=0.5 eV</tspan></text>
<text class="s" x="33.4" y="90.6" font-size="57.5">(a)</text>
</g>
<g id="panel-b">
<text class="s" x="1335" y="83.4" font-size="57.5" letter-spacing="2">(b)</text>
<text class="b" x="1633.2" y="83.6" font-size="58.6">0.75 THz</text>
<rect x="1422.8" y="119.3" width="657.0" height="651.0" fill="#000"/>
<defs><filter id="hotmap" x="0" y="0" width="1" height="1" color-interpolation-filters="sRGB">
<feComponentTransfer>
<feFuncR type="table" tableValues="0 0.3333 0.6667 0.97 1 1 0.91 1 1"/>
<feFuncG type="table" tableValues="0 0 0 0 0.3333 0.6667 0.91 1 1"/>
<feFuncB type="table" tableValues="0 0 0 0 0 0 0 0.5 1"/>
</feComponentTransfer></filter>
<filter id="bx" x="-10%" y="-10%" width="120%" height="120%" color-interpolation-filters="sRGB"><feGaussianBlur stdDeviation="2.8 0"/></filter>
<filter id="b3" x="-30%" y="-50%" width="160%" height="200%" color-interpolation-filters="sRGB"><feGaussianBlur stdDeviation="3"/></filter>
<linearGradient id="gband" gradientUnits="userSpaceOnUse" x1="0" y1="351.0" x2="0" y2="410.3"><stop offset="0.0000" stop-color="#000000"/><stop offset="0.0506" stop-color="#0d0d0d"/><stop offset="0.1012" stop-color="#262626"/><stop offset="0.1518" stop-color="#424242"/><stop offset="0.2192" stop-color="#5e5e5e"/><stop offset="0.2698" stop-color="#737373"/><stop offset="0.3204" stop-color="#878787"/><stop offset="0.3626" stop-color="#999999"/><stop offset="0.4047" stop-color="#ababab"/><stop offset="0.4553" stop-color="#bfbfbf"/><stop offset="0.7336" stop-color="#bfbfbf"/><stop offset="0.7757" stop-color="#a8a8a8"/><stop offset="0.8094" stop-color="#919191"/><stop offset="0.8432" stop-color="#808080"/><stop offset="0.8938" stop-color="#696969"/><stop offset="0.9444" stop-color="#5c5c5c"/><stop offset="0.9949" stop-color="#545454"/><stop offset="1.0000" stop-color="#545454"/></linearGradient>
<linearGradient id="gglow" gradientUnits="userSpaceOnUse" x1="0" y1="410.3" x2="0" y2="436.0"><stop offset="0.0000" stop-color="#545454"/><stop offset="0.1440" stop-color="#4f4f4f"/><stop offset="0.3774" stop-color="#454545"/><stop offset="0.6109" stop-color="#383838"/><stop offset="0.8444" stop-color="#262626"/><stop offset="1.0000" stop-color="#000000"/></linearGradient>
<filter id="bw" x="-10%" y="-10%" width="120%" height="120%" color-interpolation-filters="sRGB"><feGaussianBlur stdDeviation="7 0.5"/></filter>
<linearGradient id="gstrip" gradientUnits="userSpaceOnUse" x1="1480.0" y1="0" x2="2018.7" y2="0"><stop offset="0.0000" stop-color="#000000"/><stop offset="0.0056" stop-color="#080808"/><stop offset="0.0130" stop-color="#0d0d0d"/><stop offset="0.0891" stop-color="#242424"/><stop offset="0.1652" stop-color="#303030"/><stop offset="0.3156" stop-color="#363636"/><stop offset="0.5000" stop-color="#383838"/><stop offset="0.6844" stop-color="#363636"/><stop offset="0.8348" stop-color="#303030"/><stop offset="0.9109" stop-color="#242424"/><stop offset="0.9870" stop-color="#0d0d0d"/><stop offset="0.9944" stop-color="#080808"/><stop offset="1.0000" stop-color="#000000"/></linearGradient>
<radialGradient id="ghaze" gradientUnits="userSpaceOnUse" cx="1556.0" cy="396.0" r="80.0"><stop offset="0.000" stop-color="#666666"/><stop offset="0.120" stop-color="#545454"/><stop offset="0.250" stop-color="#333333"/><stop offset="0.500" stop-color="#1c1c1c"/><stop offset="0.800" stop-color="#0a0a0a"/><stop offset="1.000" stop-color="#000000"/></radialGradient>
<radialGradient id="gcr" gradientUnits="userSpaceOnUse" cx="1567.0" cy="306.0" r="20.0"><stop offset="0.000" stop-color="#525252"/><stop offset="0.350" stop-color="#454545"/><stop offset="0.700" stop-color="#1f1f1f"/><stop offset="1.000" stop-color="#000000"/></radialGradient>
<radialGradient id="gcap"><stop offset="0.000" stop-color="#bfbfbf"/><stop offset="0.229" stop-color="#bfbfbf"/><stop offset="0.314" stop-color="#ababab"/><stop offset="0.386" stop-color="#999999"/><stop offset="0.457" stop-color="#878787"/><stop offset="0.543" stop-color="#737373"/><stop offset="0.629" stop-color="#5e5e5e"/><stop offset="0.743" stop-color="#424242"/><stop offset="0.829" stop-color="#262626"/><stop offset="0.914" stop-color="#0d0d0d"/><stop offset="1.000" stop-color="#000000"/></radialGradient>
<clipPath id="ccap"><rect x="1500" y="340" width="59.7" height="70.3"/></clipPath>
<clipPath id="chz"><path d="M1482.4 300H1563.8V375H1700V410.3H1482.4Z"/></clipPath>
<linearGradient id="ha" gradientUnits="userSpaceOnUse" x1="1556.0" y1="0" x2="1708.0" y2="0"><stop offset="0.0000" stop-color="#000000"/><stop offset="0.0526" stop-color="#4c4c4c"/><stop offset="0.1184" stop-color="#585858"/><stop offset="0.3553" stop-color="#4a4a4a"/><stop offset="0.5987" stop-color="#333333"/><stop offset="0.8026" stop-color="#1f1f1f"/><stop offset="0.9474" stop-color="#0b0b0b"/><stop offset="1.0000" stop-color="#000000"/></linearGradient>
<linearGradient id="va" gradientUnits="userSpaceOnUse" x1="0" y1="225.0" x2="0" y2="307.3"><stop offset="0.0000" stop-color="#fff" stop-opacity="0.000"/><stop offset="0.1215" stop-color="#fff" stop-opacity="0.040"/><stop offset="0.3038" stop-color="#fff" stop-opacity="0.100"/><stop offset="0.4253" stop-color="#fff" stop-opacity="0.160"/><stop offset="0.5468" stop-color="#fff" stop-opacity="0.320"/><stop offset="0.6683" stop-color="#fff" stop-opacity="0.560"/><stop offset="0.7898" stop-color="#fff" stop-opacity="0.820"/><stop offset="0.8748" stop-color="#fff" stop-opacity="1.000"/><stop offset="1.0000" stop-color="#fff" stop-opacity="0.950"/></linearGradient>
<mask id="ma" maskUnits="userSpaceOnUse" x="1556.0" y="225.0" width="152.0" height="82.3"><rect x="1556.0" y="225.0" width="152.0" height="82.3" fill="url(#va)"/></mask>
<linearGradient id="hb" gradientUnits="userSpaceOnUse" x1="1560.0" y1="0" x2="1708.0" y2="0"><stop offset="0.0000" stop-color="#000000"/><stop offset="0.0405" stop-color="#4f4f4f"/><stop offset="0.2703" stop-color="#474747"/><stop offset="0.4865" stop-color="#333333"/><stop offset="0.7905" stop-color="#1a1a1a"/><stop offset="0.9459" stop-color="#080808"/><stop offset="1.0000" stop-color="#000000"/></linearGradient>
<linearGradient id="vb" gradientUnits="userSpaceOnUse" x1="0" y1="307.3" x2="0" y2="331.0"><stop offset="0.0000" stop-color="#fff" stop-opacity="1.000"/><stop offset="0.3249" stop-color="#fff" stop-opacity="0.900"/><stop offset="0.6203" stop-color="#fff" stop-opacity="0.500"/><stop offset="1.0000" stop-color="#fff" stop-opacity="0.000"/></linearGradient>
<mask id="mb" maskUnits="userSpaceOnUse" x="1560.0" y="307.3" width="148.0" height="23.7"><rect x="1560.0" y="307.3" width="148.0" height="23.7" fill="url(#vb)"/></mask>
<linearGradient id="gtl" gradientUnits="userSpaceOnUse" x1="0" y1="363.0" x2="0" y2="375.0"><stop offset="0.0000" stop-color="#000000"/><stop offset="0.2500" stop-color="#1a1a1a"/><stop offset="0.5000" stop-color="#454545"/><stop offset="0.7500" stop-color="#787878"/><stop offset="1.0000" stop-color="#ababab"/></linearGradient></defs>
<g filter="url(#hotmap)">
<rect x="1422.8" y="119.3" width="657.0" height="651.0" fill="#000"/>
<rect x="1480" y="410.3" width="538.7" height="66.6" fill="url(#gstrip)"/>
<g id="heat-top">
<g id="heat-tl">
<g clip-path="url(#chz)" style="mix-blend-mode:lighten"><circle cx="1556" cy="396" r="80" fill="url(#ghaze)"/></g>
<circle cx="1567" cy="306" r="20" fill="url(#gcr)" style="mix-blend-mode:lighten"/>
<g filter="url(#b3)" style="mix-blend-mode:lighten"><rect x="1556.0" y="225.0" width="152.0" height="82.3" fill="url(#ha)" mask="url(#ma)"/></g>
<g filter="url(#b3)" style="mix-blend-mode:lighten"><rect x="1560.0" y="307.3" width="148.0" height="23.7" fill="url(#hb)" mask="url(#mb)"/></g>
</g>
<use href="#heat-tl" transform="translate(3498.70 0) scale(-1 1)"/>
<rect x="1563.8" y="351" width="371.1" height="24.6" fill="url(#gband)" style="mix-blend-mode:lighten"/>
<rect x="1551.4" y="375" width="395.9" height="35.3" fill="url(#gband)" filter="url(#bx)" style="mix-blend-mode:lighten"/>
<rect x="1551.4" y="363" width="395.9" height="12" fill="url(#gtl)" filter="url(#bx)" style="mix-blend-mode:lighten"/>
<rect x="1548" y="410.3" width="402.7" height="25.7" fill="url(#gglow)" filter="url(#bw)" style="mix-blend-mode:lighten"/>
</g>
<use href="#heat-top" transform="translate(0 887.20) scale(1 -1)"/>
</g>
<path d="M1482.4 176.5H1707.9V307.3H1563.8V374.8H1934.9V307.3H1790.8V176.5H2016.3V410.3H1482.4ZM1482.4 710.7H1707.9V579.9H1563.8V512.4H1934.9V579.9H1790.8V710.7H2016.3V476.9H1482.4ZM1482.4 410.3V476.9M2016.3 410.3V476.9" fill="none" stroke="#b0b0b0" stroke-width="3" stroke-linejoin="round"/>
<linearGradient id="hot" x1="0" y1="1" x2="0" y2="0">
<stop offset="0" stop-color="#0b0000"/><stop offset="0.375" stop-color="#ff0000"/><stop offset="0.75" stop-color="#ffff00"/><stop offset="1" stop-color="#ffffff"/>
</linearGradient>
<rect x="2201.6" y="260.1" width="36.4" height="398.8" rx="2.5" fill="url(#hot)" stroke="#1c1c1c" stroke-width="2.6"/>
<text x="2250.5" y="308.3" font-size="75" font-weight="bold" fill="#262626" clip-path="url(#k3)">1</text>
<text x="2254.2" y="704" font-size="74" font-weight="bold" fill="#262626" textLength="39.6" lengthAdjust="spacingAndGlyphs">0</text>
<text class="b" y="220.4" font-size="50"><tspan x="2097.3">|E/E</tspan><tspan font-size="36.5" dy="11.3" x="2193.3" textLength="17.5" lengthAdjust="spacingAndGlyphs" style="font-weight:normal;stroke:#000;stroke-width:0.9px">0</tspan><tspan dy="-11.3" x="2212">|</tspan> <tspan x="2242.8" textLength="121.6" lengthAdjust="spacing">(a.u.)</tspan></text>
</g>
</g></svg></body></html>
